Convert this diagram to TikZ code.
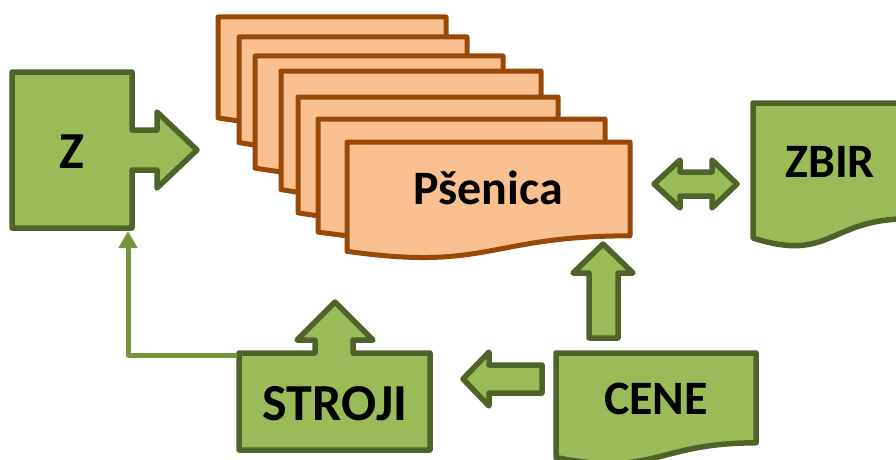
\documentclass[tikz,border=0pt]{standalone}
\usepackage{fontspec}
\setmainfont{Carlito}
\usetikzlibrary{arrows.meta}
\definecolor{gfill}{HTML}{9BBB59}
\definecolor{gline}{HTML}{4F6228}
\definecolor{gconn}{HTML}{77933C}
\definecolor{ofill}{HTML}{FAC090}
\definecolor{oline}{HTML}{984807}
\newcommand\docshape[5]{%
  \draw[#1] (#2,#3) -- (#4,#3) -- (#4,{#3+0.802*#5})
    .. controls ({(#2+#4)/2},{#3+0.802*#5}) and ({(#2+#4)/2},{#3+1.1075*#5}) ..
    (#2,{#3+0.934*#5}) -- cycle;}
\tikzset{
  gshape/.style={fill=gfill,draw=gline,line width=5.5pt,line join=round},
  oshape/.style={fill=ofill,draw=oline,line width=5pt,line join=round},
  conn/.style={draw=gconn,line width=5pt,line join=round,-{Triangle[length=17pt,width=18pt]}},
  lbl/.style={font=\bfseries\fontsize{48}{52}\selectfont,anchor=base,inner sep=0pt},
  lblbig/.style={font=\bfseries\fontsize{52}{56}\selectfont,anchor=base,inner sep=0pt}
}
\begin{document}
\begin{tikzpicture}[x=1pt,y=-1pt]
\useasboundingbox (0,0) rectangle (896,460);
\clip (0,0) rectangle (896,460);
% stacked sheets
\docshape{oshape}{218}{17}{446}{108}
\docshape{oshape}{239}{37}{467}{113}
\docshape{oshape}{255}{56}{503}{120}
\docshape{oshape}{281}{71}{541}{127}
\docshape{oshape}{298}{97}{558}{124}
\docshape{oshape}{318}{119}{605}{121}
\docshape{oshape}{347}{142}{630}{117}
\node[lbl] (psen) at (488,204) {Pšenica};
% Z box with arrow
\draw[gshape] (12,72) -- (132,72) -- (132,130) -- (157,130) -- (157,112) -- (197,150)
  -- (157,188) -- (157,170) -- (132,170) -- (132,228) -- (12,228) -- cycle;
\node[lblbig] (z) at (72,168) {Z};
% ZBIR
\docshape{gshape}{753}{103}{907}{144.5}
\node[lbl] (zbir) at (830,177) {ZBIR};
% double arrow
\draw[gshape] (654,184) -- (680,160) -- (680,172) -- (712,172) -- (712,160) -- (737,184)
  -- (712,208) -- (712,196) -- (680,196) -- (680,208) -- cycle;
% STROJI with up arrow
\draw[gshape] (239,353) -- (315,353) -- (315,340) -- (297,340) -- (335,302) -- (373,340)
  -- (353,340) -- (353,353) -- (430,353) -- (430,450) -- (239,450) -- cycle;
\node[lblbig] (stroji) at (335,420) {STROJI};
% CENE
\docshape{gshape}{556}{353}{756}{112}
\node[lbl] (cene) at (656,414) {CENE};
% arrows from CENE
\draw[gshape] (589,338) -- (589,273) -- (573,273) -- (603,244) -- (633,273) -- (618,273)
  -- (618,338) -- cycle;
\draw[gshape] (542,365) -- (489,365) -- (489,352) -- (463,379) -- (489,406) -- (489,393)
  -- (542,393) -- cycle;
% connector STROJI -> Z
\coordinate (stA) at (237,355);
\coordinate (zB) at (128,231);
\draw[conn] (stA) -| (zB);
\end{tikzpicture}
\end{document}
